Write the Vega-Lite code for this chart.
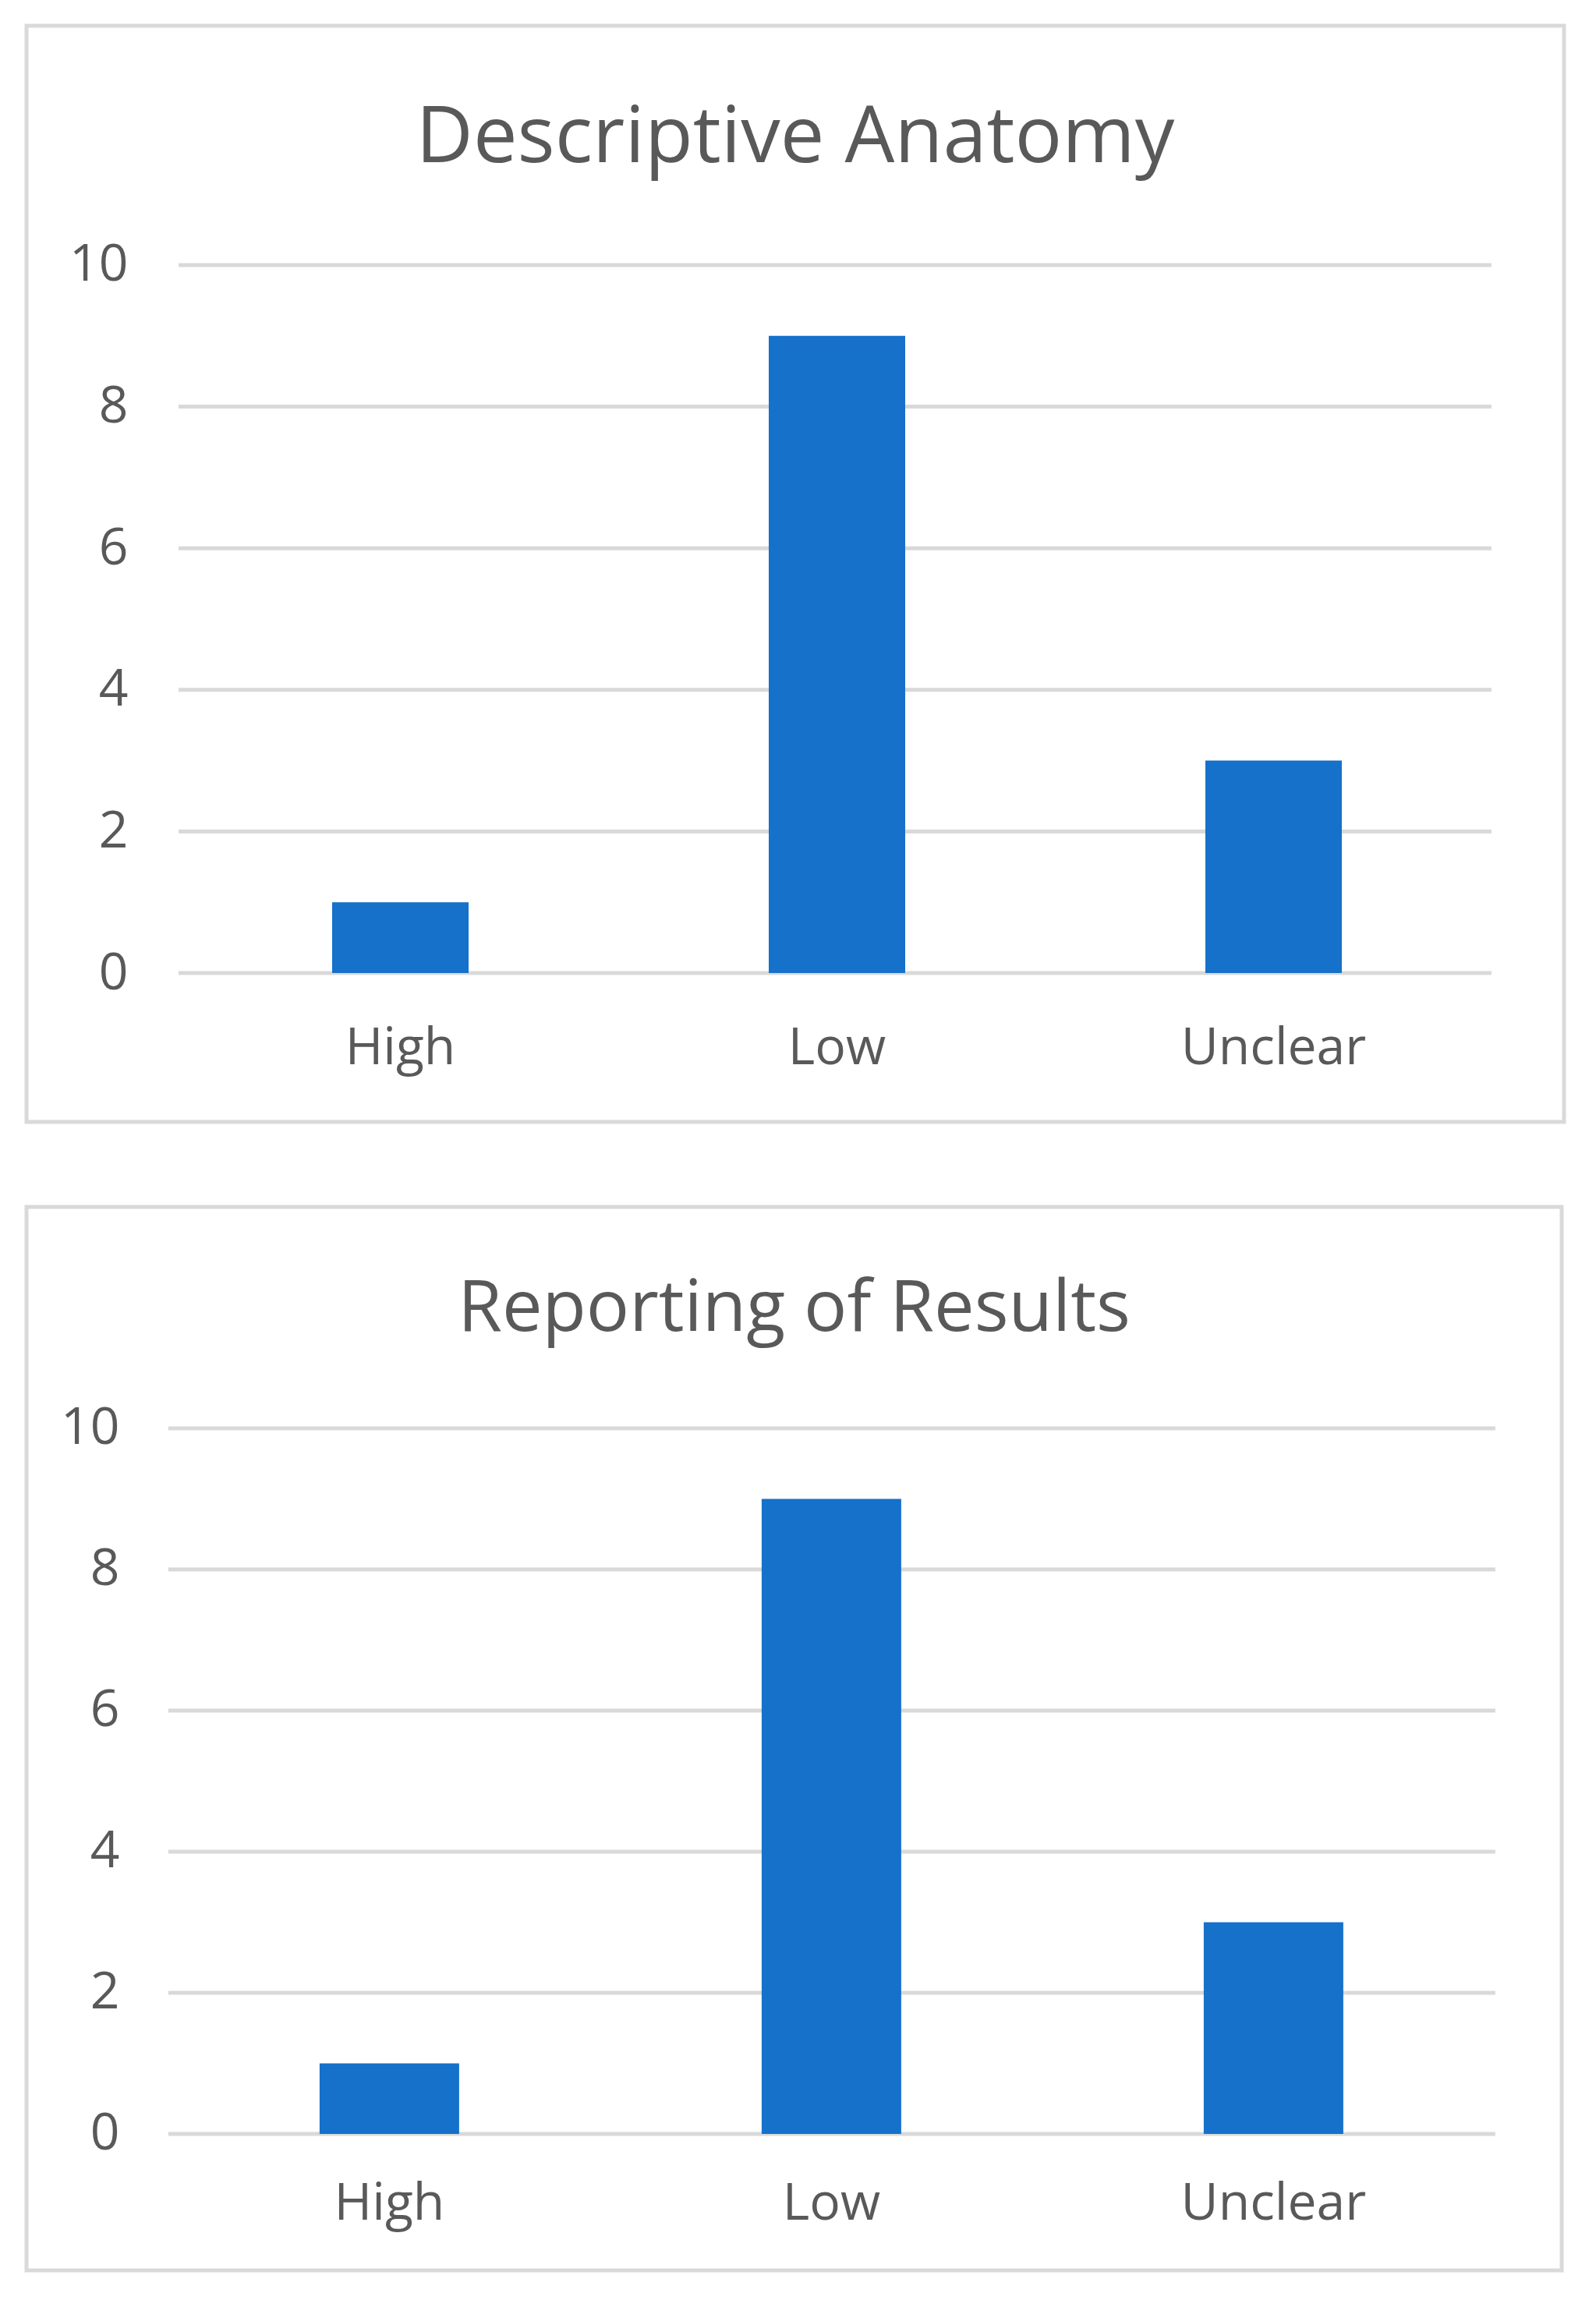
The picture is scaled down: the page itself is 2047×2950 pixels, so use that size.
{
  "$schema": "https://vega.github.io/schema/vega-lite/v6.json",
  "background": "#ffffff",
  "padding": {"left": 31, "top": 30, "right": 10, "bottom": 10},
  "spacing": 103,
  "config": {
    "font": "Open Sans",
    "view": {"stroke": "#d9d9d9", "strokeWidth": 5, "fill": "#ffffff"},
    "title": {"color": "#595959", "fontWeight": "normal", "font": "Open Sans", "baseline": "alphabetic", "anchor": "middle", "frame": "group"},
    "axis": {"labelFont": "Open Sans", "labelColor": "#595959", "labelFontSize": 66, "labelLimit": 0, "ticks": false, "tickSize": 0, "domain": false, "grid": false, "title": null}
  },
  "vconcat": [
    {
      "width": 1972,
      "height": 1406,
      "title": {"text": "Descriptive Anatomy", "fontSize": 101, "offset": -196},
      "data": {"values": [
        {"risk": "High", "count": 1},
        {"risk": "Low", "count": 9},
        {"risk": "Unclear", "count": 3}
      ]},
      "layer": [
        {
          "data": {"values": [{"v": 0}, {"v": 2}, {"v": 4}, {"v": 6}, {"v": 8}, {"v": 10}]},
          "mark": {"type": "rule", "color": "#d9d9d9", "strokeWidth": 5},
          "encoding": {
            "y": {"field": "v", "type": "quantitative", "scale": {"domain": [-2.1035, 13.381], "nice": false, "zero": false}, "axis": {"values": [0, 2, 4, 6, 8, 10], "format": "d", "offset": -130, "labelPadding": 0}},
            "x": {"datum": "High", "type": "nominal", "bandPosition": -1.1257, "scale": {"domain": ["High", "Low", "Unclear"], "paddingInner": 0.6875, "paddingOuter": 0.6045, "align": 0.579}, "axis": {"labelAngle": 0, "offset": -75, "labelPadding": 0, "labelBaseline": "alphabetic"}},
            "x2": {"datum": "Unclear", "bandPosition": 2.097}
          }
        },
        {
          "mark": {"type": "bar", "color": "#1571c9"},
          "encoding": {
            "x": {"field": "risk", "type": "nominal"},
            "y": {"field": "count", "type": "quantitative"},
            "y2": {"datum": 0}
          }
        }
      ]
    },
    {
      "width": 1969,
      "height": 1364,
      "title": {"text": "Reporting of Results", "fontSize": 92, "offset": -178},
      "data": {"values": [
        {"risk": "High", "count": 1},
        {"risk": "Low", "count": 9},
        {"risk": "Unclear", "count": 3}
      ]},
      "layer": [
        {
          "data": {"values": [{"v": 0}, {"v": 2}, {"v": 4}, {"v": 6}, {"v": 8}, {"v": 10}]},
          "mark": {"type": "rule", "color": "#d9d9d9", "strokeWidth": 5},
          "encoding": {
            "y": {"field": "v", "type": "quantitative", "scale": {"domain": [-1.934, 13.138], "nice": false, "zero": false}, "axis": {"values": [0, 2, 4, 6, 8, 10], "format": "d", "offset": -119, "labelPadding": 0}},
            "x": {"datum": "High", "type": "nominal", "bandPosition": -1.0838, "scale": {"domain": ["High", "Low", "Unclear"], "paddingInner": 0.6843, "paddingOuter": 0.5785, "align": 0.573}, "axis": {"labelAngle": 0, "offset": -66, "labelPadding": 0, "labelBaseline": "alphabetic"}},
            "x2": {"datum": "Unclear", "bandPosition": 2.0894}
          }
        },
        {
          "mark": {"type": "bar", "color": "#1571c9"},
          "encoding": {
            "x": {"field": "risk", "type": "nominal"},
            "y": {"field": "count", "type": "quantitative"},
            "y2": {"datum": 0}
          }
        }
      ]
    }
  ]
}
